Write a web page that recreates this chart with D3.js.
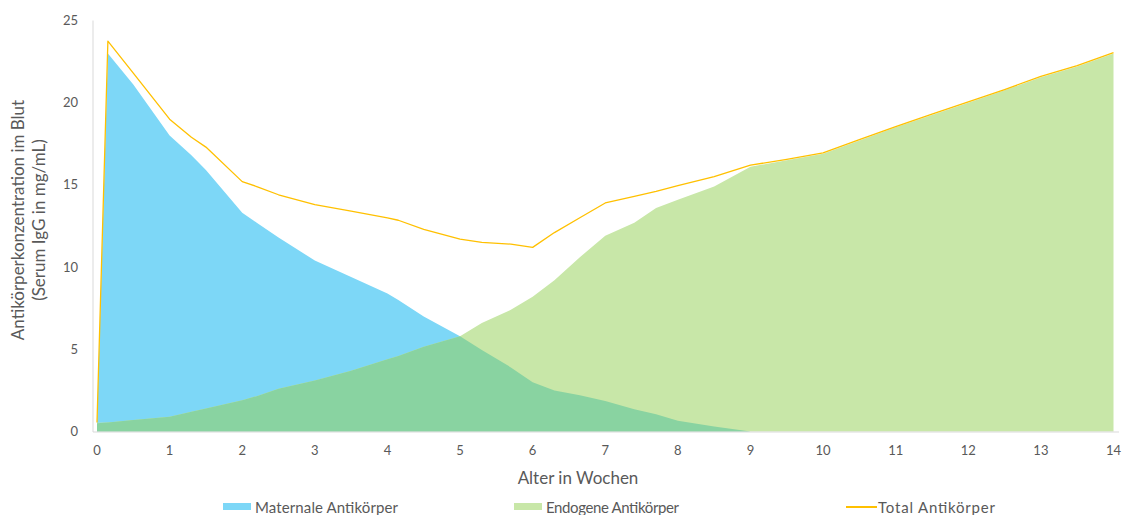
<!DOCTYPE html>
<html>
<head>
<meta charset="utf-8">
<script src="https://cdnjs.cloudflare.com/ajax/libs/d3/7.8.5/d3.min.js"></script>
<style>
  body { margin: 0; background: #fff; }
  svg { font-family: Lato, "Open Sans", sans-serif; }
</style>
</head>
<body>
<svg id="chart" width="1122" height="515"></svg>
<script>
// weeks (x values shared by all series)
const weeks = [0, 0.15, 0.5, 1, 1.3, 1.5, 2, 2.2, 2.5, 3, 3.5, 4, 4.15, 4.5, 5, 5.3, 5.7, 6, 6.3, 6.65,
  7, 7.4, 7.7, 8, 8.5, 9, 9.5, 10, 10.5, 11, 11.5, 12, 12.5, 13, 13.5, 14];

const maternal = [0.5, 23.0, 21.1, 18.0, 16.8, 15.9, 13.3, 12.7, 11.8, 10.4, 9.4, 8.4, 8.0, 7.0, 5.8, 4.95, 3.9, 3.0, 2.5, 2.2,
  1.85, 1.35, 1.05, 0.65, 0.3, 0, 0, 0, 0, 0, 0, 0, 0, 0, 0, 0];

const endogenous = [0.53, 0.55, 0.7, 0.9, 1.2, 1.4, 1.9, 2.15, 2.6, 3.1, 3.7, 4.4, 4.6, 5.15, 5.8, 6.6, 7.4, 8.2, 9.2, 10.6,
  11.9, 12.7, 13.6, 14.1, 14.9, 16.1, 16.5, 16.9, 17.7, 18.5, 19.25, 20.0, 20.75, 21.55, 22.2, 23.0];

const total = [0.55, 23.75, 21.8, 19.0, 17.9, 17.3, 15.2, 14.9, 14.4, 13.8, 13.4, 13.0, 12.85, 12.3, 11.7, 11.5, 11.4, 11.2, 12.1, 13.0,
  13.9, 14.3, 14.6, 14.95, 15.5, 16.2, 16.55, 16.95, 17.75, 18.55, 19.3, 20.05, 20.8, 21.6, 22.25, 23.05];

const xTicks = d3.range(0, 15);
const yTicks = [0, 5, 10, 15, 20, 25];
const seriesNames = ["Maternale Antikörper", "Endogene Antikörper", "Total Antikörper"];

const svg = d3.select("#chart");
const margin = {left: 97, right: 8, top: 20.5, bottom: 83.5};

const x = d3.scaleLinear().domain([0, 14]).range([margin.left, 1113.5]);
const y = d3.scaleLinear().domain([0, 25]).range([431.5, margin.top]);

const rows = weeks.map((w, i) => ({w: w, m: maternal[i], e: endogenous[i], t: total[i]}));

const area = key => d3.area()
  .x(d => x(d.w))
  .y0(y(0))
  .y1(d => y(key(d)));

svg.append("path").datum(rows)
  .attr("d", area(d => d.m)).attr("fill", "#7DD7F7");
svg.append("path").datum(rows)
  .attr("d", area(d => d.e)).attr("fill", "#C8E7A8");
// where both overlap
svg.append("path").datum(rows)
  .attr("d", area(d => Math.min(d.m, d.e))).attr("fill", "#89D3A1");

// axes
svg.append("line")
  .attr("x1", 93).attr("x2", 93).attr("y1", y(25)).attr("y2", 432)
  .attr("stroke", "#D9D9D9");
svg.append("line")
  .attr("x1", 93).attr("x2", 1119).attr("y1", 432).attr("y2", 432)
  .attr("stroke", "#D9D9D9");

svg.append("path").datum(rows)
  .attr("d", d3.line().x(d => x(d.w)).y(d => y(d.t)))
  .attr("fill", "none").attr("stroke", "#FFC000").attr("stroke-width", 1.3)
  .attr("stroke-linejoin", "round");

svg.selectAll(".xt").data(xTicks).enter().append("text")
  .attr("x", d => x(d)).attr("y", 455)
  .attr("text-anchor", "middle").attr("font-size", 13).attr("fill", "#595959")
  .text(d => d);

svg.selectAll(".yt").data(yTicks).enter().append("text")
  .attr("x", 78).attr("y", d => y(d) + 4.5)
  .attr("text-anchor", "end").attr("font-size", 13).attr("fill", "#595959")
  .text(d => d);

svg.append("text")
  .attr("x", 578).attr("y", 484)
  .attr("text-anchor", "middle").attr("font-size", 17).attr("fill", "#595959")
  .text("Alter in Wochen");

const yt = svg.append("text")
  .attr("transform", "translate(0,220) rotate(-90)")
  .attr("text-anchor", "middle").attr("font-size", 17).attr("fill", "#595959");
yt.append("tspan").attr("x", 0).attr("y", 24).text("Antikörperkonzentration im Blut");
yt.append("tspan").attr("x", 0).attr("y", 45).text("(Serum IgG in mg/mL)");

// legend
const leg = [
  {name: seriesNames[0], x: 223, len: 143, type: "rect", color: "#7DD7F7"},
  {name: seriesNames[1], x: 514, len: 133, type: "rect", color: "#C8E7A8"},
  {name: seriesNames[2], x: 846, len: 117, type: "line", color: "#FFC000"}
];
leg.forEach(l => {
  if (l.type === "rect") {
    svg.append("rect").attr("x", l.x).attr("y", 503).attr("width", 28).attr("height", 7).attr("fill", l.color);
  } else {
    svg.append("line").attr("x1", l.x).attr("x2", l.x + 31).attr("y1", 507).attr("y2", 507)
      .attr("stroke", l.color).attr("stroke-width", 2);
  }
  svg.append("text").attr("x", l.x + 32).attr("y", 513)
    .attr("font-size", 15).attr("fill", "#595959")
    .attr("textLength", l.len).attr("lengthAdjust", "spacing")
    .text(l.name);
});
</script>
</body>
</html>
